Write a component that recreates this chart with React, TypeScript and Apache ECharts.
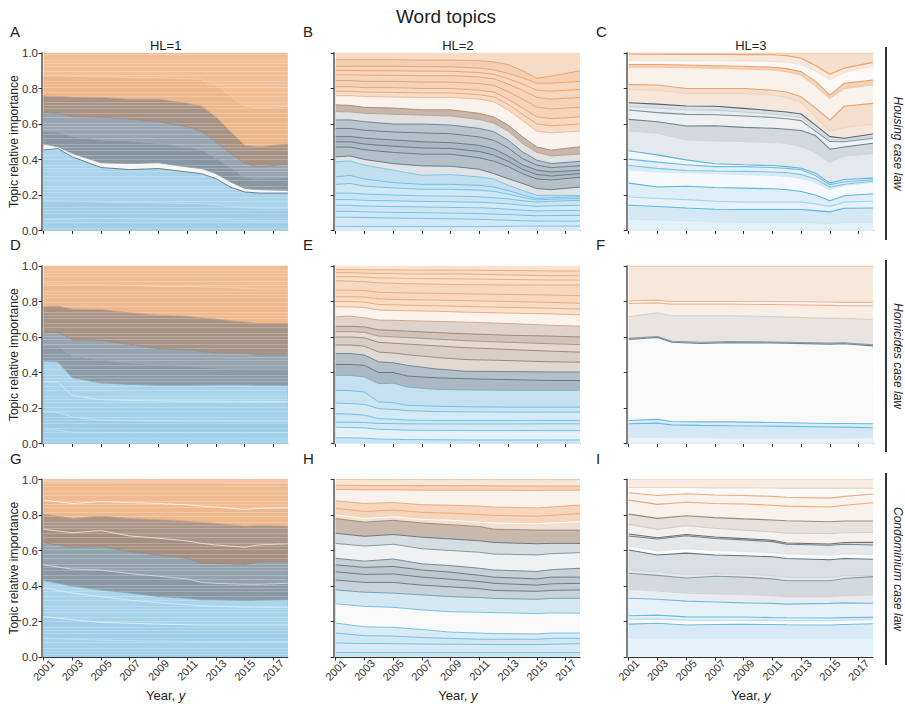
import React, { useEffect, useRef } from "react";
import * as echarts from "echarts";

// ---------------- DATA (cumulative topic boundaries, bottom -> top) ----------------
const housingHL1Years = [2001, 2002, 2003, 2005, 2007, 2009, 2011, 2012, 2013, 2014, 2015, 2016, 2018];
const housingHL1 = [
  [0.062, 0.062, 0.065, 0.068, 0.066, 0.064, 0.062, 0.06, 0.06, 0.058, 0.056, 0.055, 0.055],
  [0.17, 0.168, 0.165, 0.16, 0.157, 0.155, 0.152, 0.15, 0.145, 0.135, 0.128, 0.125, 0.125],
  [0.453, 0.462, 0.415, 0.355, 0.343, 0.349, 0.33, 0.32, 0.292, 0.245, 0.217, 0.211, 0.211],
  [0.487, 0.472, 0.434, 0.381, 0.377, 0.381, 0.358, 0.349, 0.32, 0.274, 0.236, 0.23, 0.226],
  [0.56, 0.555, 0.53, 0.51, 0.505, 0.49, 0.47, 0.455, 0.41, 0.355, 0.3, 0.29, 0.3],
  [0.664, 0.66, 0.642, 0.638, 0.628, 0.613, 0.585, 0.557, 0.5, 0.434, 0.377, 0.358, 0.374],
  [0.758, 0.755, 0.752, 0.749, 0.74, 0.74, 0.717, 0.7, 0.64, 0.557, 0.48, 0.472, 0.487],
  [0.87, 0.87, 0.868, 0.866, 0.862, 0.86, 0.855, 0.85, 0.82, 0.76, 0.7, 0.69, 0.7],
];

const housingHL2Years = [2001, 2002, 2003, 2005, 2007, 2009, 2011, 2012, 2013, 2014, 2015, 2016, 2018];
const housingHL2 = [
  [0.023, 0.023, 0.022, 0.022, 0.022, 0.022, 0.022, 0.023, 0.024, 0.025, 0.025, 0.025, 0.025],
  [0.075, 0.075, 0.073, 0.07, 0.068, 0.066, 0.063, 0.06, 0.058, 0.055, 0.053, 0.053, 0.053],
  [0.108, 0.108, 0.105, 0.102, 0.1, 0.098, 0.095, 0.092, 0.09, 0.086, 0.083, 0.084, 0.085],
  [0.142, 0.142, 0.138, 0.135, 0.133, 0.13, 0.128, 0.125, 0.12, 0.115, 0.11, 0.112, 0.113],
  [0.174, 0.174, 0.17, 0.167, 0.164, 0.162, 0.159, 0.155, 0.15, 0.142, 0.136, 0.139, 0.142],
  [0.211, 0.211, 0.205, 0.2, 0.195, 0.194, 0.19, 0.185, 0.178, 0.168, 0.16, 0.165, 0.17],
  [0.26, 0.265, 0.25, 0.24, 0.232, 0.232, 0.228, 0.22, 0.205, 0.186, 0.172, 0.176, 0.18],
  [0.302, 0.31, 0.29, 0.27, 0.26, 0.26, 0.255, 0.245, 0.225, 0.2, 0.18, 0.185, 0.19],
  [0.387, 0.392, 0.368, 0.34, 0.311, 0.315, 0.302, 0.29, 0.255, 0.226, 0.198, 0.198, 0.198],
  [0.415, 0.42, 0.4, 0.377, 0.364, 0.362, 0.345, 0.32, 0.292, 0.265, 0.236, 0.23, 0.245],
  [0.47, 0.47, 0.455, 0.44, 0.43, 0.43, 0.41, 0.39, 0.36, 0.32, 0.29, 0.285, 0.3],
  [0.5, 0.5, 0.487, 0.475, 0.465, 0.462, 0.445, 0.425, 0.39, 0.345, 0.315, 0.307, 0.32],
  [0.53, 0.53, 0.52, 0.51, 0.5, 0.495, 0.48, 0.46, 0.42, 0.37, 0.34, 0.33, 0.34],
  [0.575, 0.575, 0.565, 0.555, 0.55, 0.545, 0.527, 0.508, 0.465, 0.405, 0.368, 0.354, 0.365],
  [0.623, 0.623, 0.613, 0.6, 0.6, 0.594, 0.575, 0.557, 0.509, 0.443, 0.396, 0.377, 0.39],
  [0.67, 0.668, 0.66, 0.655, 0.65, 0.645, 0.625, 0.605, 0.56, 0.49, 0.44, 0.42, 0.43],
  [0.708, 0.705, 0.694, 0.69, 0.68, 0.68, 0.66, 0.64, 0.594, 0.528, 0.47, 0.453, 0.472],
  [0.76, 0.76, 0.755, 0.752, 0.75, 0.75, 0.74, 0.725, 0.68, 0.62, 0.56, 0.55, 0.56],
  [0.785, 0.785, 0.78, 0.778, 0.775, 0.775, 0.765, 0.752, 0.71, 0.655, 0.6, 0.59, 0.6],
  [0.81, 0.81, 0.805, 0.805, 0.8, 0.8, 0.79, 0.78, 0.74, 0.69, 0.64, 0.63, 0.64],
  [0.845, 0.845, 0.84, 0.84, 0.836, 0.836, 0.828, 0.818, 0.782, 0.74, 0.695, 0.685, 0.695],
  [0.877, 0.877, 0.875, 0.874, 0.872, 0.872, 0.865, 0.855, 0.825, 0.79, 0.75, 0.74, 0.75],
  [0.902, 0.902, 0.9, 0.9, 0.898, 0.897, 0.89, 0.88, 0.855, 0.825, 0.79, 0.785, 0.795],
  [0.925, 0.925, 0.925, 0.925, 0.923, 0.922, 0.915, 0.905, 0.885, 0.86, 0.83, 0.83, 0.84],
  [0.962, 0.962, 0.962, 0.962, 0.96, 0.96, 0.957, 0.95, 0.935, 0.9, 0.858, 0.87, 0.9],
];

const housingHL3Years = [2001, 2003, 2005, 2007, 2009, 2011, 2012, 2013, 2014, 2015, 2016, 2018];
const housingHL3 = [
  [0.065, 0.06, 0.055, 0.05, 0.047, 0.047, 0.046, 0.045, 0.043, 0.04, 0.045, 0.047],
  [0.142, 0.135, 0.127, 0.12, 0.118, 0.118, 0.118, 0.118, 0.112, 0.105, 0.125, 0.127],
  [0.189, 0.18, 0.174, 0.165, 0.16, 0.16, 0.16, 0.16, 0.15, 0.136, 0.16, 0.165],
  [0.267, 0.245, 0.249, 0.242, 0.239, 0.235, 0.23, 0.22, 0.2, 0.168, 0.196, 0.207],
  [0.342, 0.33, 0.327, 0.32, 0.314, 0.31, 0.305, 0.295, 0.27, 0.23, 0.255, 0.271],
  [0.366, 0.35, 0.338, 0.335, 0.333, 0.33, 0.325, 0.315, 0.29, 0.245, 0.26, 0.277],
  [0.402, 0.385, 0.37, 0.36, 0.36, 0.355, 0.35, 0.342, 0.31, 0.258, 0.275, 0.286],
  [0.449, 0.426, 0.398, 0.376, 0.37, 0.366, 0.36, 0.351, 0.323, 0.267, 0.287, 0.295],
  [0.561, 0.548, 0.51, 0.505, 0.501, 0.496, 0.49, 0.473, 0.44, 0.383, 0.42, 0.432],
  [0.626, 0.613, 0.589, 0.59, 0.581, 0.576, 0.57, 0.563, 0.535, 0.458, 0.47, 0.492],
  [0.679, 0.664, 0.654, 0.652, 0.645, 0.637, 0.63, 0.619, 0.56, 0.501, 0.5, 0.52],
  [0.697, 0.69, 0.68, 0.678, 0.668, 0.656, 0.648, 0.637, 0.575, 0.51, 0.51, 0.53],
  [0.72, 0.712, 0.701, 0.7, 0.688, 0.675, 0.668, 0.656, 0.594, 0.529, 0.52, 0.544],
  [0.794, 0.79, 0.772, 0.772, 0.772, 0.763, 0.75, 0.72, 0.64, 0.56, 0.58, 0.6],
  [0.822, 0.82, 0.8, 0.8, 0.8, 0.79, 0.78, 0.753, 0.69, 0.622, 0.7, 0.716],
  [0.92, 0.92, 0.917, 0.913, 0.91, 0.905, 0.895, 0.875, 0.815, 0.745, 0.8, 0.82],
  [0.935, 0.935, 0.932, 0.928, 0.925, 0.92, 0.912, 0.895, 0.84, 0.763, 0.83, 0.847],
  [0.959, 0.958, 0.957, 0.956, 0.955, 0.953, 0.948, 0.935, 0.9, 0.85, 0.89, 0.925],
  [0.993, 0.993, 0.992, 0.992, 0.991, 0.99, 0.985, 0.97, 0.93, 0.88, 0.915, 0.947],
];

const homicidesHL1Years = [2001, 2002, 2003, 2005, 2007, 2009, 2011, 2013, 2015, 2016, 2018];
const homicidesHL1 = [
  [0.077, 0.076, 0.064, 0.062, 0.062, 0.062, 0.062, 0.062, 0.062, 0.062, 0.062],
  [0.177, 0.175, 0.149, 0.13, 0.128, 0.126, 0.125, 0.125, 0.124, 0.124, 0.124],
  [0.347, 0.345, 0.27, 0.247, 0.243, 0.24, 0.238, 0.238, 0.236, 0.236, 0.236],
  [0.465, 0.46, 0.371, 0.341, 0.333, 0.328, 0.328, 0.33, 0.33, 0.328, 0.328],
  [0.55, 0.55, 0.49, 0.47, 0.455, 0.44, 0.435, 0.425, 0.42, 0.415, 0.415],
  [0.623, 0.627, 0.586, 0.582, 0.559, 0.535, 0.529, 0.51, 0.507, 0.5, 0.5],
  [0.77, 0.774, 0.757, 0.755, 0.736, 0.723, 0.717, 0.7, 0.685, 0.676, 0.676],
  [0.9, 0.9, 0.895, 0.895, 0.89, 0.885, 0.885, 0.88, 0.875, 0.87, 0.87],
];

const homicidesHL2Years = [2001, 2002, 2003, 2004, 2005, 2006, 2008, 2010, 2013, 2016, 2018];
const homicidesHL2 = [
  [0.032, 0.032, 0.03, 0.025, 0.024, 0.022, 0.021, 0.02, 0.02, 0.02, 0.02],
  [0.092, 0.09, 0.088, 0.08, 0.078, 0.075, 0.074, 0.073, 0.073, 0.073, 0.073],
  [0.12, 0.12, 0.118, 0.113, 0.112, 0.111, 0.11, 0.11, 0.11, 0.111, 0.111],
  [0.168, 0.166, 0.16, 0.14, 0.137, 0.132, 0.13, 0.13, 0.13, 0.13, 0.13],
  [0.228, 0.225, 0.22, 0.196, 0.192, 0.185, 0.18, 0.178, 0.177, 0.177, 0.177],
  [0.3, 0.298, 0.29, 0.234, 0.23, 0.215, 0.21, 0.207, 0.205, 0.205, 0.205],
  [0.384, 0.384, 0.375, 0.337, 0.34, 0.318, 0.305, 0.302, 0.3, 0.3, 0.3],
  [0.445, 0.445, 0.44, 0.4, 0.4, 0.38, 0.37, 0.365, 0.36, 0.355, 0.355],
  [0.507, 0.507, 0.498, 0.46, 0.455, 0.44, 0.42, 0.407, 0.405, 0.403, 0.403],
  [0.555, 0.555, 0.548, 0.515, 0.51, 0.5, 0.485, 0.473, 0.467, 0.46, 0.458],
  [0.6, 0.6, 0.595, 0.57, 0.565, 0.56, 0.55, 0.54, 0.53, 0.52, 0.515],
  [0.63, 0.63, 0.626, 0.605, 0.601, 0.597, 0.588, 0.579, 0.57, 0.562, 0.557],
  [0.66, 0.66, 0.657, 0.64, 0.637, 0.633, 0.625, 0.618, 0.61, 0.605, 0.6],
  [0.714, 0.718, 0.708, 0.695, 0.694, 0.692, 0.688, 0.684, 0.676, 0.666, 0.661],
  [0.77, 0.77, 0.766, 0.752, 0.75, 0.748, 0.745, 0.74, 0.735, 0.73, 0.725],
  [0.8, 0.8, 0.796, 0.783, 0.781, 0.779, 0.776, 0.772, 0.767, 0.762, 0.757],
  [0.827, 0.827, 0.825, 0.815, 0.812, 0.81, 0.808, 0.805, 0.8, 0.795, 0.79],
  [0.864, 0.864, 0.862, 0.852, 0.85, 0.848, 0.846, 0.843, 0.84, 0.836, 0.833],
  [0.917, 0.915, 0.912, 0.905, 0.903, 0.9, 0.898, 0.895, 0.893, 0.893, 0.893],
  [0.94, 0.94, 0.938, 0.933, 0.932, 0.93, 0.928, 0.927, 0.924, 0.921, 0.921],
  [0.962, 0.962, 0.96, 0.958, 0.957, 0.955, 0.955, 0.955, 0.95, 0.945, 0.945],
  [0.98, 0.98, 0.979, 0.978, 0.978, 0.977, 0.977, 0.977, 0.975, 0.972, 0.972],
];

const homicidesHL3Years = [2001, 2003, 2004, 2006, 2008, 2011, 2015, 2016, 2018];
const homicidesHL3 = [
  [0.036, 0.036, 0.032, 0.032, 0.03, 0.03, 0.03, 0.03, 0.032],
  [0.111, 0.115, 0.105, 0.102, 0.1, 0.098, 0.093, 0.092, 0.089],
  [0.13, 0.136, 0.124, 0.122, 0.122, 0.118, 0.113, 0.113, 0.111],
  [0.586, 0.597, 0.57, 0.563, 0.568, 0.566, 0.56, 0.562, 0.55],
  [0.592, 0.603, 0.576, 0.57, 0.574, 0.572, 0.566, 0.568, 0.556],
  [0.714, 0.736, 0.72, 0.72, 0.72, 0.715, 0.705, 0.705, 0.699],
  [0.789, 0.792, 0.785, 0.785, 0.785, 0.783, 0.778, 0.776, 0.776],
  [0.804, 0.808, 0.8, 0.8, 0.8, 0.8, 0.797, 0.795, 0.795],
];

const condoHL1Years = [2001, 2003, 2005, 2007, 2009, 2011, 2012, 2013, 2015, 2016, 2018];
const condoHL1 = [
  [0.107, 0.1, 0.095, 0.092, 0.09, 0.088, 0.088, 0.088, 0.088, 0.088, 0.088],
  [0.228, 0.21, 0.195, 0.19, 0.185, 0.182, 0.18, 0.18, 0.18, 0.18, 0.18],
  [0.39, 0.36, 0.34, 0.32, 0.305, 0.295, 0.288, 0.285, 0.28, 0.28, 0.28],
  [0.431, 0.4, 0.378, 0.36, 0.341, 0.331, 0.322, 0.322, 0.318, 0.32, 0.322],
  [0.519, 0.495, 0.49, 0.47, 0.455, 0.44, 0.42, 0.415, 0.41, 0.41, 0.415],
  [0.644, 0.618, 0.625, 0.594, 0.575, 0.556, 0.528, 0.528, 0.522, 0.535, 0.537],
  [0.719, 0.7, 0.712, 0.682, 0.669, 0.654, 0.64, 0.631, 0.618, 0.632, 0.637],
  [0.805, 0.781, 0.794, 0.781, 0.775, 0.766, 0.758, 0.753, 0.738, 0.742, 0.738],
  [0.884, 0.865, 0.875, 0.87, 0.865, 0.857, 0.85, 0.845, 0.831, 0.838, 0.84],
  [0.987, 0.986, 0.986, 0.985, 0.985, 0.985, 0.985, 0.985, 0.984, 0.984, 0.984],
];

const condoHL2Years = [2001, 2003, 2005, 2007, 2009, 2011, 2012, 2015, 2016, 2018];
const condoHL2 = [
  [0.026, 0.025, 0.025, 0.025, 0.025, 0.025, 0.025, 0.025, 0.025, 0.025],
  [0.079, 0.076, 0.075, 0.073, 0.072, 0.071, 0.07, 0.07, 0.072, 0.075],
  [0.135, 0.12, 0.118, 0.11, 0.105, 0.1, 0.1, 0.1, 0.105, 0.105],
  [0.191, 0.17, 0.167, 0.155, 0.14, 0.135, 0.132, 0.13, 0.135, 0.135],
  [0.3, 0.285, 0.28, 0.265, 0.255, 0.252, 0.25, 0.245, 0.248, 0.247],
  [0.378, 0.365, 0.36, 0.35, 0.34, 0.335, 0.33, 0.325, 0.33, 0.331],
  [0.434, 0.42, 0.42, 0.405, 0.395, 0.385, 0.375, 0.37, 0.375, 0.378],
  [0.48, 0.465, 0.468, 0.45, 0.438, 0.425, 0.415, 0.405, 0.412, 0.415],
  [0.519, 0.505, 0.51, 0.49, 0.478, 0.46, 0.45, 0.44, 0.45, 0.45],
  [0.556, 0.54, 0.552, 0.525, 0.515, 0.5, 0.49, 0.482, 0.492, 0.5],
  [0.64, 0.625, 0.635, 0.61, 0.6, 0.59, 0.58, 0.575, 0.582, 0.588],
  [0.697, 0.68, 0.69, 0.675, 0.665, 0.655, 0.645, 0.638, 0.64, 0.64],
  [0.78, 0.76, 0.77, 0.755, 0.745, 0.735, 0.72, 0.715, 0.715, 0.715],
  [0.8, 0.78, 0.79, 0.775, 0.77, 0.76, 0.755, 0.75, 0.755, 0.762],
  [0.837, 0.82, 0.828, 0.815, 0.81, 0.803, 0.798, 0.793, 0.798, 0.809],
  [0.88, 0.865, 0.87, 0.858, 0.855, 0.85, 0.845, 0.84, 0.845, 0.856],
  [0.944, 0.942, 0.942, 0.94, 0.94, 0.94, 0.94, 0.938, 0.94, 0.94],
  [0.968, 0.966, 0.966, 0.965, 0.965, 0.965, 0.964, 0.963, 0.963, 0.963],
];

const condoHL3Years = [2001, 2003, 2005, 2007, 2009, 2011, 2012, 2015, 2016, 2018];
const condoHL3 = [
  [0.107, 0.108, 0.107, 0.107, 0.107, 0.107, 0.107, 0.107, 0.107, 0.107],
  [0.185, 0.19, 0.18, 0.183, 0.184, 0.183, 0.182, 0.18, 0.183, 0.187],
  [0.213, 0.215, 0.208, 0.207, 0.207, 0.206, 0.205, 0.205, 0.207, 0.21],
  [0.232, 0.236, 0.226, 0.225, 0.225, 0.222, 0.221, 0.22, 0.222, 0.223],
  [0.331, 0.325, 0.315, 0.31, 0.305, 0.302, 0.298, 0.302, 0.305, 0.303],
  [0.382, 0.372, 0.36, 0.355, 0.352, 0.345, 0.34, 0.34, 0.345, 0.35],
  [0.472, 0.46, 0.445, 0.455, 0.45, 0.44, 0.43, 0.43, 0.442, 0.453],
  [0.49, 0.48, 0.465, 0.47, 0.468, 0.458, 0.45, 0.448, 0.458, 0.46],
  [0.603, 0.575, 0.585, 0.575, 0.57, 0.565, 0.555, 0.548, 0.555, 0.551],
  [0.625, 0.597, 0.61, 0.6, 0.595, 0.588, 0.58, 0.575, 0.58, 0.578],
  [0.682, 0.665, 0.683, 0.668, 0.66, 0.65, 0.635, 0.63, 0.635, 0.631],
  [0.693, 0.672, 0.69, 0.676, 0.667, 0.658, 0.642, 0.637, 0.645, 0.646],
  [0.747, 0.719, 0.74, 0.725, 0.715, 0.705, 0.698, 0.695, 0.7, 0.702],
  [0.805, 0.781, 0.796, 0.785, 0.778, 0.772, 0.768, 0.762, 0.766, 0.766],
  [0.884, 0.86, 0.872, 0.865, 0.862, 0.855, 0.85, 0.845, 0.855, 0.869],
  [0.925, 0.91, 0.92, 0.913, 0.91, 0.905, 0.9, 0.895, 0.905, 0.918],
  [0.955, 0.955, 0.955, 0.953, 0.953, 0.952, 0.95, 0.95, 0.95, 0.95],
];

const yTicks = [0, 0.2, 0.4, 0.6, 0.8, 1.0];
const xTickYears = [2001, 2003, 2005, 2007, 2009, 2011, 2013, 2015, 2017];
const columnTitles = ["HL=1", "HL=2", "HL=3"];
const rowTitles = ["Housing case law", "Homicides case law", "Condominium case law"];
const panelLetters = ["A", "B", "C", "D", "E", "F", "G", "H", "I"];

// ---------------- STYLES (fill / top-edge colour for each band, bottom -> top) ----------------
const housingHL1Fill = ["#a2d0e9", "#9dcde7", "#a8d4eb", "#f6f6f6", "#8797a2", "#96a5af", "#a89283", "#eeb78b", "#f1be96"];
const housingHL1Line = ["#c6e3f2", "#c0e0f1", "#56666f", "#8d9ca6", "#9fadb6", "#9a8f88", "#c9a58a", "#f3cdb0", "#f1be96"];
const housingHL2Fill = [
  "#d9ecf7", "#d3e9f5", "#cfe7f4", "#cce5f3", "#d3e9f5", "#cbe4f2", "#d0e7f4", "#c7e2f2", "#c2dff0",
  "#e1e4e6", "#b3c0c8", "#aebcc5", "#a9b8c1", "#b4c1c9", "#b9c5cc", "#dfe1e3", "#c9b6a7",
  "#faf3ed", "#f6dcc8", "#f6d9c2", "#f5d3b8", "#f5d3b8", "#f6d6bd", "#f6d6bd", "#f4cfb1", "#f6dcc7",
];
const housingHL2Line = [
  "#6dbce3", "#6dbce3", "#6dbce3", "#6dbce3", "#6dbce3", "#6dbce3", "#6dbce3", "#6dbce3", "#7cc0e2",
  "#5d7482", "#5f7685", "#5f7685", "#5f7685", "#5f7685", "#6b7f8b", "#b0a398", "#a58b78",
  "#f0b588", "#ec9f66", "#ec9f66", "#ec9f66", "#ec9f66", "#ec9f66", "#ec9f66", "#ec9f66", "#f6dcc7",
];
const housingHL3Fill = ["#e3f0f8", "#d5e9f5", "#e6f2f9", "#deeef7", "#f6f9fb", "#d9ebf5", "#e4f0f7", "#f1f7fb", "#e6e9eb", "#d3d9dd", "#eef0f2", "#e9ecee", "#dde2e5", "#f6e6da", "#f4dfcf", "#f9f1eb", "#f3d2ba", "#fbf9f8", "#f6e8dd", "#f5dfcd"];
const housingHL3Line = ["#cfe4f1", "#5fb3de", "#a9d3ec", "#5fb3de", "#d3e7f3", "#7cc2e6", "#6bbae2", "#5fb3de", "#d0d6da", "#6b8290", "#7d909c", "#c3ccd1", "#4f6573", "#f0d2bd", "#eda26a", "#f2c6a5", "#eda26a", "#f5e0d0", "#eda26a", "#f2c29f"];
const homicidesHL1Fill = ["#a1d0e9", "#9ccde7", "#a3d2ea", "#a8d4eb", "#8a9ba6", "#95a4ae", "#a89384", "#efb98d", "#f0bc92"];
const homicidesHL1Line = ["#c2e1f1", "#c7e3f2", "#d9edf7", "#8ea7b5", "#9aabb5", "#948c86", "#c7a58b", "#f6d3b8", "#f0bc92"];
const homicidesHL2Fill = [
  "#cde5f3", "#e3f1f9", "#d4e9f5", "#cfe6f3", "#d6eaf5", "#cbe4f2", "#c5e1f1", "#aab8c1", "#b3c0c8",
  "#e0d9d3", "#d8cec6", "#e2dad3", "#d0c3b8", "#ddd3cb", "#faf3ee", "#f7e2d2", "#f7dcc7", "#f6d8c0",
  "#f6d8c0", "#f7dfcb", "#f7e0ce", "#f6dac4", "#f8e3d2",
];
const homicidesHL2Line = [
  "#6cbbe3", "#6cbbe3", "#6cbbe3", "#6cbbe3", "#6cbbe3", "#6cbbe3", "#7fa9c0", "#5c7483", "#6d7f8a",
  "#9b8170", "#9b8170", "#a8917f", "#9b8170", "#d8a27d", "#eea56f", "#eea56f", "#eea56f", "#eea56f",
  "#eea56f", "#eea56f", "#eea56f", "#eea56f", "#f8e3d2",
];
const homicidesHL3Fill = ["#e9f3f9", "#d3e8f4", "#dbecf6", "#f9f9f9", "#c9d3d9", "#e7e4e1", "#f8eee6", "#f8f6f4", "#f7e8dc"];
const homicidesHL3Line = ["#d5e8f3", "#6bbbe3", "#6bbbe3", "#6d8593", "#8a9ca7", "#d8d2cd", "#eeb48a", "#eeb48a", "#eeb48a"];
const condoHL1Fill = ["#a2d1ea", "#9fcfe8", "#a5d3ea", "#a9d5ec", "#8899a4", "#93a3ad", "#a68f7f", "#ab9586", "#efb88c", "#f0bb90", "#f0bd93"];
const condoHL1Line = ["#c4e2f2", "#e5f2f9", "#dcedf7", "#8aa4b3", "#d9e0e4", "#948b84", "#f2ece7", "#c8ab94", "#ffffff", "#f7dcc7", "#f0bd93"];
const condoHL2Fill = [
  "#cfe6f3", "#d8ebf6", "#d2e8f4", "#d9ecf6", "#f9f9f9", "#d4e8f4", "#c9d2d8", "#c0cad1", "#bcc7ce",
  "#c8d1d6", "#eff1f2", "#d6dde1", "#c9b9ac", "#f1dfd1", "#f5d5bc", "#f6d6bd", "#faf2ec", "#f5d3b8", "#f8e6d8",
];
const condoHL2Line = [
  "#6cbbe3", "#6cbbe3", "#6cbbe3", "#6cbbe3", "#6cbbe3", "#6f99b1", "#5c7483", "#5c7483", "#5c7483",
  "#6d808c", "#7d909b", "#5c7483", "#a08672", "#ffffff", "#eea56f", "#eea56f", "#eea56f", "#eea56f", "#f2c39f",
];
const condoHL3Fill = ["#e6f2f9", "#d7eaf5", "#fafbfc", "#e3f0f8", "#e6f1f8", "#e9ecee", "#d3d9dd", "#e6e9eb", "#d9dfe2", "#fbfbfb", "#e4e8ea", "#e0ddda", "#f2f1f0", "#e6e1dd", "#f9f1eb", "#f9f2ed", "#fbfaf8", "#f8ede4"];
const condoHL3Line = ["#d3e7f3", "#6bbbe3", "#b6d9ee", "#6bbbe3", "#6bbbe3", "#cfd6da", "#8a9ca7", "#cfd6da", "#5f7684", "#dfe4e7", "#6e8390", "#7a6a5f", "#d7cfc9", "#9f8778", "#eeaa78", "#eeaa78", "#f3d4bd", "#f4d9c5"];

const FONT = "'Liberation Sans', Arial, sans-serif";
const colLeft = [43.5, 335.7, 628.7];
const rowTop = [53, 266, 479.5];
const gridW = 244.3;
const gridH = 177.5;

// fine stripe texture used for the dense HL=1 panels
const hl1Texture = {
  symbol: "rect",
  symbolSize: 1,
  color: "rgba(255,255,255,0.22)",
  dashArrayX: [[6, 0]],
  dashArrayY: [1, 2, 1, 4, 1, 3, 1, 5, 1, 2],
  rotation: 0,
};

function buildOption() {
  const panels = [
    { years: housingHL1Years, bounds: housingHL1, fills: housingHL1Fill, lines: housingHL1Line, lw: 0.8, tex: true },
    { years: housingHL2Years, bounds: housingHL2, fills: housingHL2Fill, lines: housingHL2Line, lw: 0.9, tex: false },
    { years: housingHL3Years, bounds: housingHL3, fills: housingHL3Fill, lines: housingHL3Line, lw: 1.1, tex: false },
    { years: homicidesHL1Years, bounds: homicidesHL1, fills: homicidesHL1Fill, lines: homicidesHL1Line, lw: 0.8, tex: true },
    { years: homicidesHL2Years, bounds: homicidesHL2, fills: homicidesHL2Fill, lines: homicidesHL2Line, lw: 0.9, tex: false },
    { years: homicidesHL3Years, bounds: homicidesHL3, fills: homicidesHL3Fill, lines: homicidesHL3Line, lw: 1.1, tex: false },
    { years: condoHL1Years, bounds: condoHL1, fills: condoHL1Fill, lines: condoHL1Line, lw: 0.8, tex: true },
    { years: condoHL2Years, bounds: condoHL2, fills: condoHL2Fill, lines: condoHL2Line, lw: 0.9, tex: false },
    { years: condoHL3Years, bounds: condoHL3, fills: condoHL3Fill, lines: condoHL3Line, lw: 1.1, tex: false },
  ];

  const grid: any[] = [];
  const xAxis: any[] = [];
  const yAxis: any[] = [];
  const series: any[] = [];
  const graphic: any[] = [];

  panels.forEach((pn, p) => {
    const row = Math.floor(p / 3);
    const col = p % 3;
    grid.push({ left: colLeft[col], top: rowTop[row], width: gridW, height: gridH, containLabel: false });
    xAxis.push({
      type: "value",
      gridIndex: p,
      min: 2001,
      max: 2018,
      offset: 0,
      axisLine: { show: true, onZero: false, lineStyle: { color: "#333", width: 1 } },
      axisTick: { show: true, length: 3.5, customValues: xTickYears, lineStyle: { color: "#333" } },
      axisLabel: {
        show: row === 2,
        customValues: xTickYears,
        rotate: 45,
        align: "center",
        verticalAlign: "middle",
        fontSize: 11,
        color: "#333",
        margin: 13,
        fontFamily: FONT,
        formatter: (v: number) => String(v),
      },
      splitLine: { show: false },
    });
    yAxis.push({
      type: "value",
      gridIndex: p,
      min: 0,
      max: 1,
      interval: 0.2,
      offset: 1.5,
      axisLine: { show: true, lineStyle: { color: "#808080", width: 2 } },
      axisTick: { show: true, length: 3.5, customValues: yTicks, lineStyle: { color: "#333" } },
      axisLabel: {
        show: col === 0,
        fontSize: 11.5,
        color: "#333",
        margin: 4,
        fontFamily: FONT,
        formatter: (v: number) => v.toFixed(1),
      },
      splitLine: { show: false },
    });

    const all = [...pn.bounds, pn.years.map(() => 1)];
    for (let i = all.length - 1; i >= 0; i--) {
      const s: any = {
        type: "line",
        xAxisIndex: p,
        yAxisIndex: p,
        symbol: "none",
        silent: true,
        clip: true,
        data: pn.years.map((yr, k) => [yr, all[i][k]]),
        lineStyle: { color: pn.lines[i], width: pn.lw },
        areaStyle: { color: pn.fills[i], opacity: 1 },
      };
      if (pn.tex) s.itemStyle = { decal: hl1Texture };
      series.push(s);
    }
  });

  graphic.push({
    type: "text",
    x: 446,
    y: 16,
    style: { text: "Word topics", fontSize: 19, fill: "#222", align: "center", verticalAlign: "middle", fontFamily: FONT },
  });
  const letterX = [10, 303, 596];
  const letterY = [31, 244, 458];
  panelLetters.forEach((l, i) => {
    graphic.push({
      type: "text",
      x: letterX[i % 3],
      y: letterY[Math.floor(i / 3)],
      style: { text: l, fontSize: 15, fill: "#222", align: "left", verticalAlign: "middle", fontFamily: FONT },
    });
  });
  columnTitles.forEach((t, c) => {
    graphic.push({
      type: "text",
      x: colLeft[c] + gridW / 2,
      y: 45,
      style: { text: t, fontSize: 13, fill: "#222", align: "center", verticalAlign: "middle", fontFamily: FONT },
    });
  });
  for (let r = 0; r < 3; r++) {
    graphic.push({
      type: "text",
      x: 14,
      y: rowTop[r] + gridH / 2,
      rotation: Math.PI / 2,
      style: { text: "Topic relative importance", fontSize: 12, fill: "#222", align: "center", verticalAlign: "middle", fontFamily: FONT },
    });
  }
  for (let c = 0; c < 3; c++) {
    graphic.push({
      type: "text",
      x: colLeft[c] + gridW / 2,
      y: 695,
      style: {
        text: "{a|Year, }{b|y}",
        align: "center",
        verticalAlign: "middle",
        rich: {
          a: { fontSize: 13, fill: "#222", fontFamily: FONT },
          b: { fontSize: 13, fill: "#222", fontStyle: "italic", fontFamily: FONT },
        },
      },
    });
  }
  const barTop = [47, 260, 473];
  const barBottom = [240, 452, 665];
  rowTitles.forEach((t, r) => {
    graphic.push({
      type: "line",
      shape: { x1: 886, y1: barTop[r], x2: 886, y2: barBottom[r] },
      style: { stroke: "#000", lineWidth: 1.6 },
    });
    graphic.push({
      type: "text",
      x: 898,
      y: (barTop[r] + barBottom[r]) / 2,
      rotation: -Math.PI / 2,
      style: { text: t, fontSize: 12, fill: "#222", fontStyle: "italic", align: "center", verticalAlign: "middle", fontFamily: FONT },
    });
  });

  return {
    animation: false,
    backgroundColor: "#ffffff",
    textStyle: { fontFamily: FONT },
    grid,
    xAxis,
    yAxis,
    series,
    graphic,
  };
}

export default function App() {
  const ref = useRef<HTMLDivElement>(null);
  useEffect(() => {
    if (!ref.current) return;
    const chart = echarts.init(ref.current, undefined, { renderer: "svg", width: 905, height: 704 });
    chart.setOption(buildOption() as any);
    return () => {
      chart.dispose();
    };
  }, []);
  return (
    <div
      ref={ref}
      style={{ position: "absolute", left: 0, top: 0, width: 905, height: 704, background: "#fff" }}
    />
  );
}
